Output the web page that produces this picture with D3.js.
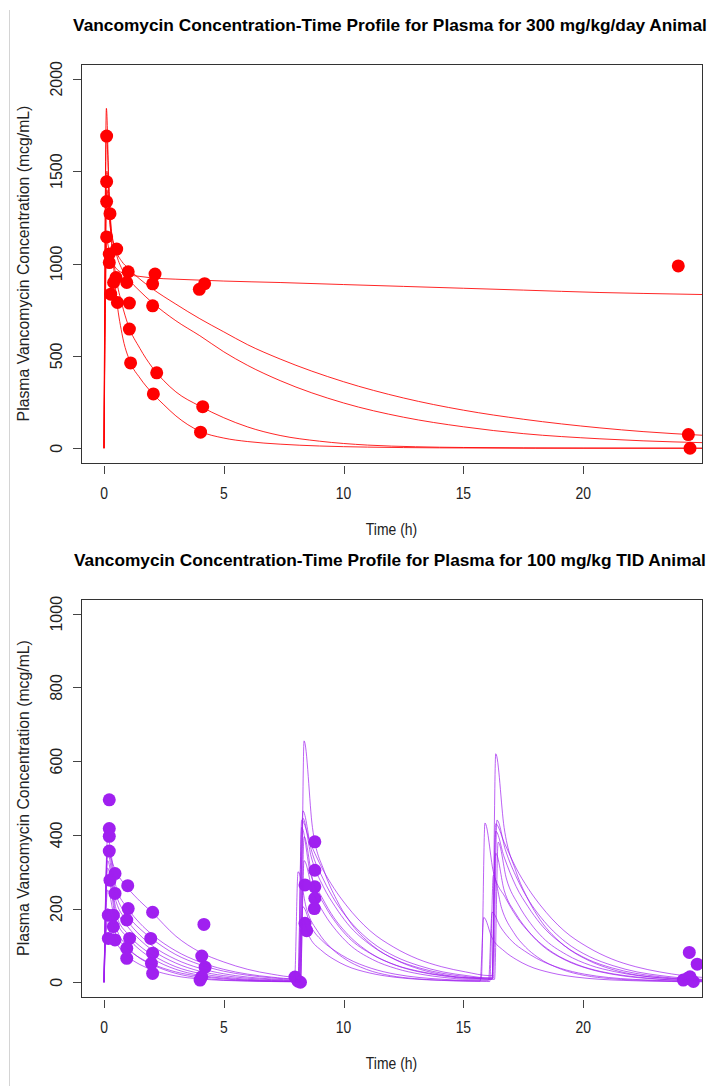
<!DOCTYPE html>
<html>
<head>
<meta charset="utf-8">
<script src="https://cdn.jsdelivr.net/npm/d3@7"></script>
<style>
  body { margin: 0; background: #fff; }
  svg { display: block; }
  text { font-family: "Liberation Sans", Arial, sans-serif; fill: #222; }
</style>
</head>
<body>
<script>
// ---------- Tick labels ----------
const timeTicks = [0, 5, 10, 15, 20];
const concTicksHigh = [0, 500, 1000, 1500, 2000];
const concTicksTid = [0, 200, 400, 600, 800, 1000];

// ---------- 300 mg/kg/day: observed concentrations [time h, mcg/mL] ----------
const obsDaily = [
  [0.11, 1690], [0.11, 1443], [0.11, 1335], [0.25, 1270], [0.11, 1144],
  [0.53, 1078], [0.22, 1051], [0.22, 1005], [0.28, 834], [0.5, 924],
  [0.4, 897], [0.56, 789], [1.01, 955], [0.95, 897], [1.06, 786],
  [1.06, 645], [1.11, 462], [2.13, 943], [2.03, 890], [2.03, 771],
  [2.2, 408], [2.06, 294], [4.2, 891], [3.98, 860], [4.12, 225],
  [4.03, 87], [23.97, 987], [24.39, 74], [24.46, 0]
];

// ---------- 300 mg/kg/day: model predictions per animal [time h, mcg/mL] ----------
const fitDailyA = [[0,0],[0.12,1120],[0.25,1040],[0.5,975],[0.75,950],[1,940],[1.5,930],[2,922],[3,915],[4,910],[5,905],[7.35,897],[10,886],[12.5,876],[15,866],[17.5,856],[20.7,843],[22.5,838],[25,832]];
const fitDailyB = [[0,0],[0.12,1400],[0.25,1210],[0.5,1070],[0.75,1010],[1,975],[1.5,915],[2,865],[3,780],[4,701],[5,630],[6,560],[7.35,483],[10,360],[12.5,272],[15,206],[17.5,157],[20.7,110],[22.5,90],[25,70]];
const fitDailyC = [[0,0],[0.12,1500],[0.25,1250],[0.5,1060],[0.75,970],[1,920],[1.5,850],[2,790],[3,690],[4,609],[5,522],[6,448],[7.35,366],[10,245],[12.5,168],[15,116],[17.5,79],[20.7,51],[22.5,40],[25,30]];
const fitDailyD = [[0,0],[0.1,1700],[0.25,1230],[0.5,930],[0.75,780],[1,670],[1.5,540],[2,440],[2.5,365],[3,305],[4,228],[5,165],[6,115],[7.35,69],[9,38],[11,17],[13,8],[15,4],[20,1],[25,0]];
const fitDailyE = [[0,0],[0.1,1840],[0.2,1450],[0.35,1080],[0.5,840],[0.75,620],[1.1,465],[1.5,380],[2,300],[2.5,235],[3,175],[4,92],[5,55],[6,36],[7.35,22],[9,12],[11,6],[14,2],[18,0],[25,0]];
const fitsDaily = [fitDailyA, fitDailyB, fitDailyC, fitDailyD, fitDailyE];

// ---------- 100 mg/kg TID: observed concentrations [time h, mcg/mL] ----------
const obsTid = [
  [0.22, 495], [0.22, 417], [0.22, 396], [0.22, 356], [0.46, 295],
  [0.25, 277], [0.99, 262], [0.46, 241], [1.01, 200], [2.03, 190],
  [0.18, 182], [4.17, 157], [0.39, 182], [0.95, 169], [0.39, 151],
  [0.46, 115], [1.07, 119], [0.18, 119], [1.95, 119], [0.95, 92],
  [2.03, 79], [0.95, 65], [1.98, 51], [2.03, 24], [4.08, 71],
  [4.22, 41], [4.08, 15], [4.01, 6],
  [7.97, 14], [8.1, 3], [8.2, 0],
  [8.8, 381], [8.8, 304], [8.39, 264], [8.8, 259], [8.8, 228],
  [8.78, 200], [8.39, 160], [8.46, 140],
  [24.43, 81], [24.76, 49], [24.46, 15], [24.18, 6], [24.6, 2], [24.35, 10]
];

// ---------- 100 mg/kg TID: model predictions per animal ----------
// dose times (h), peak after each dose (mcg/mL), and the decline after a dose
// read at fixed offsets (h) from that dose (first dose, then later doses)
const tidOffsets = [0.5, 1, 1.5, 2, 3, 4, 5, 6, 7, 8, 9];
const tidDoseTimes = [
  [0, 8.1, 16.2], [0, 8.2, 16.2], [0, 8.15, 16.25], [0, 8.15, 16.2], [0, 8.1, 15.75],
  [0, 8.2, 16.3], [0, 8.2, 16.2], [0, 7.95, 16.1], [0, 8.15, 16.05], [0, 8.1, 15.7]
];
const tidPeaks = [
  [350, 440, 430], [390, 655, 620], [370, 465, 440], [350, 445, 410], [330, 420, 432],
  [310, 395, 380], [290, 330, 350], [250, 300, 290], [200, 205, 190], [170, 175, 176]
];
const tidDeclineFirst = [
  [300, 255, 220, 190, 125, 82, 55, 35, 22, 14, 9],
  [260, 200, 160, 130, 85, 55, 35, 22, 14, 9, 6],
  [240, 180, 145, 118, 75, 48, 30, 19, 12, 8, 5],
  [220, 165, 128, 100, 62, 38, 23, 14, 9, 6, 4],
  [200, 150, 115, 88, 52, 30, 18, 11, 7, 4, 3],
  [185, 130, 98, 75, 42, 24, 14, 8, 5, 3, 2],
  [170, 120, 88, 65, 35, 19, 11, 6, 4, 2, 1],
  [150, 95, 65, 48, 24, 12, 6, 4, 2, 1, 1],
  [130, 90, 66, 50, 28, 16, 9, 5, 3, 2, 1],
  [110, 70, 48, 34, 17, 9, 5, 3, 2, 1, 1]
];
const tidDeclineLater = [
  [380, 310, 255, 210, 140, 95, 63, 42, 28, 18, 12],
  [420, 300, 225, 170, 100, 60, 35, 20, 12, 7, 4],
  [360, 280, 220, 175, 110, 70, 45, 28, 18, 11, 7],
  [340, 260, 205, 160, 100, 62, 39, 24, 15, 9, 6],
  [300, 230, 175, 135, 80, 48, 29, 18, 11, 6, 4],
  [280, 210, 160, 122, 75, 46, 29, 18, 12, 8, 5],
  [250, 185, 140, 105, 62, 37, 22, 13, 8, 5, 3],
  [200, 135, 95, 68, 35, 18, 10, 6, 4, 2, 1],
  [150, 110, 85, 65, 38, 22, 13, 8, 5, 3, 2],
  [120, 85, 62, 45, 25, 14, 8, 5, 3, 2, 1]
];

// ---------- layout ----------
const W = 717, H = 1086;
const plotLeft = 81, plotRight = 702;
const panels = [
  {
    title: "Vancomycin Concentration-Time Profile for Plasma for 300 mg/kg/day Animal",
    top: 64, bottom: 463, yDomain: [-80, 2080], yTicks: concTicksHigh,
    color: "#ff0000", lineOpacity: 0.85,
    obs: obsDaily
  },
  {
    title: "Vancomycin Concentration-Time Profile for Plasma for 100 mg/kg TID Animal",
    top: 599, bottom: 997, yDomain: [-40, 1040], yTicks: concTicksTid,
    color: "#a020f0", lineOpacity: 0.7,
    obs: obsTid
  }
];

// assemble each TID animal's predicted profile from its dosing records
function tidCurve(i) {
  const doses = tidDoseTimes[i];
  const pts = [[0, 0]];
  doses.forEach((d, j) => {
    const next = j + 1 < doses.length ? doses[j + 1] : 26;
    const decline = j === 0 ? tidDeclineFirst[i] : tidDeclineLater[i];
    if (j > 0) pts.push([d, pts[pts.length - 1][1]]);
    pts.push([d + 0.15, tidPeaks[i][j]]);
    tidOffsets.forEach((o, k) => {
      if (d + o < next) pts.push([d + o, decline[k]]);
    });
  });
  return pts;
}
panels[0].fits = fitsDaily;
panels[1].fits = tidDoseTimes.map((_, i) => tidCurve(i));

const svg = d3.select("body").append("svg")
  .attr("width", W).attr("height", H);

// thin page margin rule on the left
svg.append("line")
  .attr("x1", 9.5).attr("x2", 9.5).attr("y1", 10).attr("y2", H)
  .attr("stroke", "#d4d4d4").attr("stroke-width", 1);

const x = d3.scaleLinear().domain([-0.96, 24.96]).range([plotLeft, plotRight]);

panels.forEach((p, pi) => {
  const y = d3.scaleLinear().domain(p.yDomain).range([p.bottom, p.top]);
  const g = svg.append("g");
  const clipId = "clip" + pi;
  g.append("clipPath").attr("id", clipId).append("rect")
    .attr("x", plotLeft).attr("y", p.top)
    .attr("width", plotRight - plotLeft).attr("height", p.bottom - p.top);

  // title
  g.append("text")
    .attr("x", 390).attr("y", p.top - 33)
    .attr("text-anchor", "middle")
    .attr("font-weight", "bold").attr("font-size", 17.3)
    .style("fill", "#000")
    .text(p.title);

  // observed points
  const marks = g.append("g").attr("clip-path", `url(#${clipId})`);
  marks.selectAll("circle").data(p.obs).join("circle")
    .attr("cx", d => x(d[0])).attr("cy", d => y(d[1]))
    .attr("r", 6.5).attr("fill", p.color);

  // model curves
  const line = d3.line().x(d => x(d[0])).y(d => y(d[1])).curve(d3.curveMonotoneX);
  marks.selectAll("path").data(p.fits).join("path")
    .attr("d", line).attr("fill", "none")
    .attr("stroke", p.color).attr("stroke-width", 1)
    .attr("stroke-opacity", p.lineOpacity);

  // frame
  g.append("rect")
    .attr("x", plotLeft + 0.5).attr("y", p.top + 0.5)
    .attr("width", plotRight - plotLeft).attr("height", p.bottom - p.top)
    .attr("fill", "none").attr("stroke", "#333").attr("stroke-width", 1);

  // x axis ticks (offset slightly below the frame)
  const xa = g.append("g");
  xa.selectAll("line").data(timeTicks).join("line")
    .attr("x1", d => Math.round(x(d)) + 0.5).attr("x2", d => Math.round(x(d)) + 0.5)
    .attr("y1", p.bottom + 3).attr("y2", p.bottom + 11)
    .attr("stroke", "#444");
  xa.selectAll("text").data(timeTicks).join("text")
    .attr("transform", d => `translate(${x(d)},${p.bottom + 36}) scale(0.82,1)`)
    .attr("text-anchor", "middle").attr("font-size", 17)
    .text(d => d);
  g.append("text")
    .attr("transform", `translate(${(plotLeft + plotRight) / 2},${p.bottom + 72}) scale(0.82,1)`)
    .attr("text-anchor", "middle").attr("font-size", 17)
    .text("Time (h)");

  // y axis ticks
  const ya = g.append("g");
  ya.selectAll("line").data(p.yTicks).join("line")
    .attr("x1", plotLeft - 8).attr("x2", plotLeft)
    .attr("y1", d => Math.round(y(d)) + 0.5).attr("y2", d => Math.round(y(d)) + 0.5)
    .attr("stroke", "#444");
  ya.selectAll("text").data(p.yTicks).join("text")
    .attr("transform", d => `translate(62,${y(d)}) rotate(-90)`)
    .attr("text-anchor", "middle").attr("font-size", 16)
    .text(d => d);
  g.append("text")
    .attr("transform", `translate(29,${(p.top + p.bottom) / 2}) rotate(-90)`)
    .attr("text-anchor", "middle").attr("font-size", 15.8)
    .text("Plasma Vancomycin Concentration (mcg/mL)");
});
</script>
</body>
</html>
